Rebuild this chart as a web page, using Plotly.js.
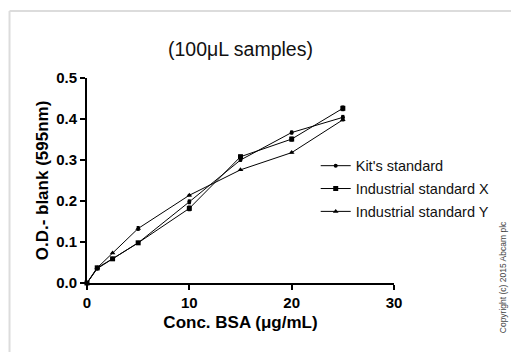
<!DOCTYPE html>
<html>
<head>
<meta charset="utf-8">
<script src="https://cdn.plot.ly/plotly-3.0.1.min.js"></script>
<style>html,body{margin:0;padding:0;background:#fff;}#chart{width:511px;height:352px;}</style>
</head>
<body>
<div id="chart"></div>
<script>
const conc = [0, 1, 2.5, 5, 10, 15, 20, 25];
const kitStandard = [0, 0.035, 0.059, 0.098, 0.198, 0.300, 0.367, 0.404];
const kitErr = [0, 0.002, 0.002, 0.003, 0.006, 0.004, 0.005, 0.006];
const industrialX = [0, 0.037, 0.059, 0.098, 0.182, 0.308, 0.351, 0.426];
const industrialXErr = [0, 0.003, 0.002, 0.003, 0.007, 0.005, 0.006, 0.007];
const industrialY = [0, 0.037, 0.073, 0.133, 0.214, 0.276, 0.318, 0.398];
const industrialYErr = [0, 0.002, 0.002, 0.006, 0.003, 0.002, 0.002, 0.004];
const seriesNames = ["Kit's standard", "Industrial standard X", "Industrial standard Y"];
const xTicks = [0, 10, 20, 30];
const yTicks = [0, 0.1, 0.2, 0.3, 0.4, 0.5];
const yTickText = ["0.0", "0.1", "0.2", "0.3", "0.4", "0.5"];

const FONT = "Liberation Sans, Arial, sans-serif";
function tr(y, err, name, symbol, size, grp) {
  return {
    x: conc, y: y, name: name, type: 'scatter', mode: 'lines+markers',
    legendgroup: grp,
    line: {color: '#000', width: 1},
    marker: {color: '#000', symbol: symbol, size: size},
    error_y: {type: 'data', array: err, visible: true, color: '#000', thickness: 3, width: 0},
    cliponaxis: false
  };
}
const data = [
  tr(kitStandard, kitErr, seriesNames[0], 'circle', 4, 'a'),
  tr(industrialX, industrialXErr, seriesNames[1], 'square', 5, 'b'),
  tr(industrialY, industrialYErr, seriesNames[2], 'triangle-up', 5, 'c')
];
const frame = {color: '#dcdcdc', width: 2};
const layout = {
  width: 511, height: 352,
  margin: {l: 87, r: 117, t: 78, b: 69},
  paper_bgcolor: '#fff', plot_bgcolor: '#fff',
  font: {family: FONT, color: '#000'},
  showlegend: true,
  title: {text: '(100\u03bcL samples)', font: {family: FONT, size: 19.5, color: '#111'}, x: 0.5, xref: 'paper', y: 0.86, yref: 'container', xanchor: 'center', yanchor: 'middle'},
  xaxis: {
    range: [0, 30], tickvals: xTicks, ticktext: xTicks.map(String),
    showgrid: false, zeroline: false, showline: true, linecolor: '#000', linewidth: 2,
    ticks: 'outside', ticklen: 5, tickwidth: 2, tickcolor: '#000',
    tickfont: {family: FONT, size: 15, weight: 'bold'},
    title: {text: 'Conc. BSA (\u03bcg/mL)', font: {family: FONT, size: 17, weight: 'bold'}, standoff: 6},
    fixedrange: true
  },
  yaxis: {
    range: [0, 0.5], tickvals: yTicks, ticktext: yTickText,
    showgrid: false, zeroline: false, showline: true, linecolor: '#000', linewidth: 2,
    ticks: 'outside', ticklen: 5, tickwidth: 2, tickcolor: '#000',
    tickfont: {family: FONT, size: 15, weight: 'bold'},
    title: {text: 'O.D.- blank (595nm)', font: {family: FONT, size: 17, weight: 'bold'}, standoff: 3},
    fixedrange: true
  },
  legend: {
    x: 0.745, y: 0.65, xanchor: 'left', yanchor: 'top',
    font: {family: FONT, size: 14.5, color: '#111'},
    itemwidth: 30, traceorder: 'grouped', tracegroupgap: 1,
    bgcolor: 'rgba(0,0,0,0)'
  },
  shapes: [
    {type: 'line', xref: 'paper', yref: 'paper', x0: -0.2524, x1: 1.40, y0: 1.327, y1: 1.327, line: frame},
    {type: 'line', xref: 'paper', yref: 'paper', x0: -0.2524, x1: -0.2524, y0: 1.327, y1: -0.36, line: frame}
  ],
  annotations: [
    {text: 'Copyright (c) 2015 Abcam plc', xref: 'paper', yref: 'paper', x: 1.353, y: 0.03, textangle: -90,
     showarrow: false, font: {family: FONT, size: 8.5, color: '#444'}, xanchor: 'center', yanchor: 'middle'}
  ]
};
Plotly.newPlot('chart', data, layout, {displayModeBar: false, staticPlot: true});
</script>
</body>
</html>
